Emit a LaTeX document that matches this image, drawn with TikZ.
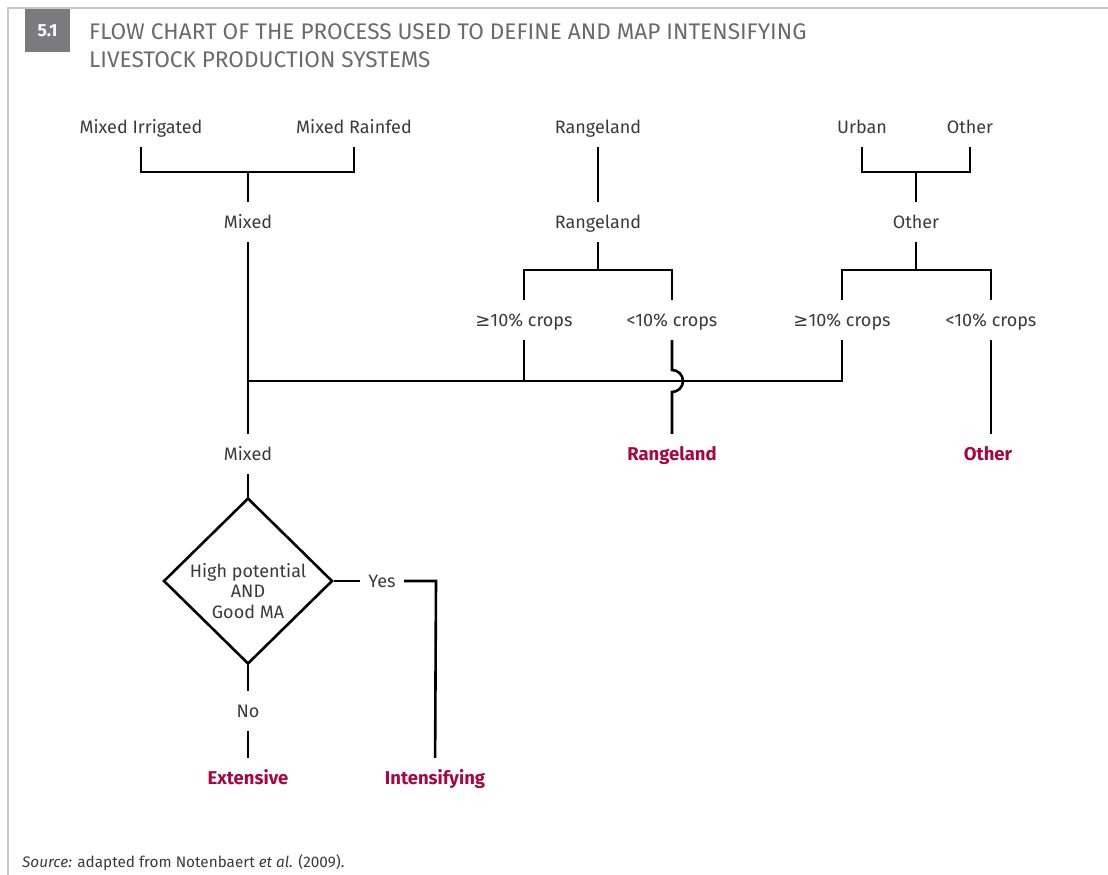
\documentclass[tikz,border=0pt]{standalone}
\usepackage{fontspec}
\setmainfont{Fira Sans}
\newfontfamily\symfont{DejaVu Sans}
\usetikzlibrary{shapes.geometric}

\definecolor{framegray}{HTML}{C8C8C8}
\definecolor{boxgray}{HTML}{7B7B7D}
\definecolor{titlegray}{HTML}{6A6A6C}
\definecolor{textgray}{HTML}{3A3A3A}
\definecolor{outred}{HTML}{A8063C}

\begin{document}
\begin{tikzpicture}[x=1pt, y=-1pt,
    stage/.style ={inner sep=0pt, minimum height=40pt, text height=16pt, text depth=3pt,
                   text=textgray, font=\fontsize{18}{21}\selectfont},
    outcome/.style ={stage, text=outred, font=\fontsize{18.5}{21}\selectfont\bfseries},
    decision/.style ={diamond, draw, line width=2.6pt, inner sep=-30pt, aspect=1,
                   minimum width=169pt, minimum height=166pt, align=center,
                   text=textgray, font=\fontsize{18}{20.5}\selectfont},
    link/.style ={draw, line width=2.6pt}]
   \useasboundingbox (0,0) rectangle (1108,875);

   % frame and heading
   \draw[framegray, line width=1.5pt] (1108,8) -- (8,8) -- (8,875);
   \node[fill=boxgray, text=white, inner sep=0pt, minimum width=45pt, minimum height=43pt,
         font=\fontsize{17.5}{18}\selectfont\bfseries] (num) at (47.5,30.5) {5.1};
   \node[anchor=base west, inner sep=0pt, text=titlegray, font=\fontsize{22.6}{26}\selectfont]
         (title1) at (89,39.5) {FLOW CHART OF THE PROCESS USED TO DEFINE AND MAP INTENSIFYING};
   \node[anchor=base west, inner sep=0pt, text=titlegray, font=\fontsize{22.6}{26}\selectfont]
         (title2) at (89,67.5) {LIVESTOCK PRODUCTION SYSTEMS};

   % nodes
   \node[stage] (irr)   at (141,127) {Mixed Irrigated};
   \node[stage] (rain)  at (354,127) {Mixed Rainfed};
   \node[stage] (mixA)  at (248,222) {Mixed};
   \node[stage] (rngA)  at (598,127) {Rangeland};
   \node[stage] (rngB)  at (598,222) {Rangeland};
   \node[stage] (urb)   at (862,127) {Urban};
   \node[stage] (othA)  at (970,127) {Other};
   \node[stage] (othB)  at (916,222) {Other};
   \node[stage] (rngGe) at (524,320) {{\symfont ≥}10\% crops};
   \node[stage] (rngLt) at (672,320) {<10\% crops};
   \node[stage] (othGe) at (842,320) {{\symfont ≥}10\% crops};
   \node[stage] (othLt) at (991,320) {<10\% crops};
   \node[stage] (mixB)  at (248,454) {Mixed};
   \node[outcome] (rngOut) at (672,454) {Rangeland};
   \node[outcome] (othOut) at (988,454) {Other};
   \node[decision] (test) at (248,581) {\rule{0pt}{34pt}High potential\\AND\\Good MA};
   \node[stage, inner xsep=8.5pt] (yes) at (382,581) {Yes};
   \node[stage] (no)    at (248,711) {No};
   \node[outcome] (ext) at (248,778) {Extensive};
   \node[outcome] (int) at (435,778) {Intensifying};

   \coordinate (jMix) at (248,172);
   \coordinate (jRng) at (598,270);
   \coordinate (jUrb) at (916,172);
   \coordinate (jOth) at (916,270);
   \coordinate (jLow) at (248,381);
   \coordinate (hop)  at (672,381);
   \coordinate (jYes) at (436,581);

   % connectors
   \draw[link] (irr) |- (jMix) -| (rain);
   \draw[link] (jMix) to (mixA);
   \draw[link] (rngA) to (rngB);
   \draw[link] (rngB) to (jRng);
   \draw[link] (rngGe) |- (jRng) -| (rngLt);
   \draw[link] (urb) |- (jUrb) -| (othA);
   \draw[link] (jUrb) to (othB);
   \draw[link] (othB) to (jOth);
   \draw[link] (othGe) |- (jOth) -| (othLt);
   \draw[link] (mixA) to (mixB);
   \draw[link] (othGe) |- (jLow);
   \draw[link] (rngGe) to (rngGe |- jLow);
   \draw[link] (rngLt) to ([yshift=11pt]hop) arc[start angle=90, end angle=-90, radius=11pt]
        -- (rngOut);
   \draw[link] (othLt) to (othLt.south |- othOut.north);
   \draw[link] (mixB) to (test);
   \draw[link] (test) to (yes);
   \draw[link] (yes) -- (jYes) -- (int);
   \draw[link] (test) to (no);
   \draw[link] (no) to (ext);

   % source
   \node[anchor=base west, inner sep=0pt, text=textgray, font=\fontsize{15.3}{17}\selectfont]
         (src) at (22,867) {\textit{Source:} adapted from Notenbaert \textit{et al.} (2009).};
 \end{tikzpicture}
\end{document}
